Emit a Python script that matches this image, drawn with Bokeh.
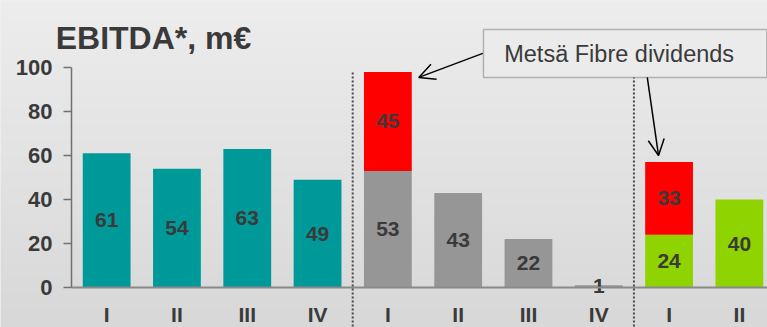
import numpy as np
from bokeh.plotting import figure
from bokeh.models import (ColumnDataSource, Label, BoxAnnotation, Arrow,
                          OpenHead, FixedTicker, Range1d)
from bokeh.core.properties import value
from bokeh.embed import file_html
from bokeh.resources import INLINE

# ---- data ----
quarters = ["I", "II", "III", "IV", "I", "II", "III", "IV", "I", "II"]
base_values = [61, 54, 63, 49, 53, 43, 22, 1, 24, 40]
dividend_values = [0, 0, 0, 0, 45, 0, 0, 0, 33, 0]
group_colors = ["#009999"] * 4 + ["#969696"] * 4 + ["#8fd400"] * 2
dividend_color = "#ff0000"
y_ticks = [0, 20, 40, 60, 80, 100]
title_text = "EBITDA*, m\u20ac"
note_text = "Mets\u00e4 Fibre dividends"

FONT = "Liberation Sans"
TXT = "#3a3a3a"
BG = "#e3e3e3"

xs = list(range(len(quarters)))
X0, X1, Y0, Y1 = -1.51, 9.4, -18.18, 130.45

p = figure(width=767, height=327, output_backend="svg", toolbar_location=None,
           x_axis_type=None, x_range=Range1d(X0, X1), y_range=Range1d(Y0, Y1),
           min_border_left=0, min_border_right=0, min_border_top=0, min_border_bottom=0)
p.background_fill_color = BG
p.border_fill_color = BG
p.outline_line_color = None
p.xgrid.visible = False
p.ygrid.visible = False

# vertical background gradient (bottom #d8d8d8 -> top #ededed)
n = 128
t = np.linspace(0, 1, n)
g = (0xd8 + (0xed - 0xd8) * t).astype(np.uint32)
img = np.empty((n, 1), dtype=np.uint32)
view = img.view(dtype=np.uint8).reshape((n, 1, 4))
view[:, 0, 0] = g
view[:, 0, 1] = g
view[:, 0, 2] = g
view[:, 0, 3] = 255
p.image_rgba(image=[img], x=X0, y=Y0, dw=X1 - X0, dh=Y1 - Y0, level="image")

# y axis (placed inside the frame at the left edge of the category area)
ax = p.yaxis[0]
ax.fixed_location = -0.5
ax.ticker = FixedTicker(ticks=y_ticks)
ax.bounds = (0, 100)
ax.axis_line_color = "#707070"
ax.axis_line_width = 1.5
ax.major_tick_line_color = "#707070"
ax.major_tick_line_width = 1.5
ax.major_tick_out = 8
ax.major_tick_in = 0
ax.minor_tick_line_color = None
ax.major_label_standoff = 11
ax.major_label_text_font = FONT
ax.major_label_text_font_style = "bold"
ax.major_label_text_font_size = "22px"
ax.major_label_text_color = TXT

# bars
src = ColumnDataSource(dict(
    x=xs, base=base_values, color=group_colors,
    mid=[b / 2 for b in base_values], lab=[str(b) for b in base_values]))
p.vbar(x="x", top="base", bottom=0, width=0.68, fill_color="color", line_color=None, source=src)

dx = [x for x, d in zip(xs, dividend_values) if d > 0]
db = [b for b, d in zip(base_values, dividend_values) if d > 0]
dd = [d for d in dividend_values if d > 0]
dsrc = ColumnDataSource(dict(x=dx, bottom=db, top=[b + d for b, d in zip(db, dd)],
                             mid=[b + d / 2 for b, d in zip(db, dd)], lab=[str(d) for d in dd]))
p.vbar(x="x", top="top", bottom="bottom", width=0.68, fill_color=dividend_color,
       line_color=None, source=dsrc)

# value labels
for s in (src, dsrc):
    p.text(x="x", y="mid", text="lab", source=s, text_align="center", text_baseline="middle",
           text_font=value(FONT), text_font_style="bold", text_font_size="21px",
           text_color=TXT)

# baseline
p.segment(x0=[-0.5], y0=[0], x1=[X1], y1=[0], line_color="#8a8a8a", line_width=2)

# separators
p.segment(x0=[3.5, 7.5], y0=[97.7, 97.7], x1=[3.5, 7.5], y1=[Y0, Y0],
          line_color="#4a4a4a", line_width=2, line_dash="2 2")

# category labels
qsrc = ColumnDataSource(dict(x=xs, y=[-17.7] * len(xs), t=quarters))
p.text(x="x", y="y", text="t", source=qsrc, text_align="center", text_baseline="bottom",
       text_font=value(FONT), text_font_style="bold", text_font_size="21px", text_color=TXT)

# title
p.add_layout(Label(x=-0.725, y=113.6, text=title_text, text_font=FONT, text_font_style="bold",
                   text_font_size="32px", text_color=TXT, text_baseline="alphabetic"))

# callout
p.add_layout(BoxAnnotation(left=5.36, right=9.39, bottom=95.5, top=117.3,
                           fill_color="#ebebeb", fill_alpha=1.0,
                           line_color="#303030", line_width=1.5))
p.add_layout(Label(x=7.29, y=106.2, text=note_text, text_font=FONT, text_font_size="23.5px",
                   text_color="#3a3a3a", text_align="center", text_baseline="middle"))
p.add_layout(Arrow(end=OpenHead(size=16, line_width=1.5, line_color="black"),
                   x_start=5.35, y_start=106.4, x_end=4.44, y_end=95.5,
                   line_width=1.5, line_color="black"))
p.add_layout(Arrow(end=OpenHead(size=16, line_width=1.5, line_color="black"),
                   x_start=7.69, y_start=95.5, x_end=7.85, y_end=60.0,
                   line_width=1.5, line_color="black"))

open("out.html", "w").write(file_html(p, INLINE))
